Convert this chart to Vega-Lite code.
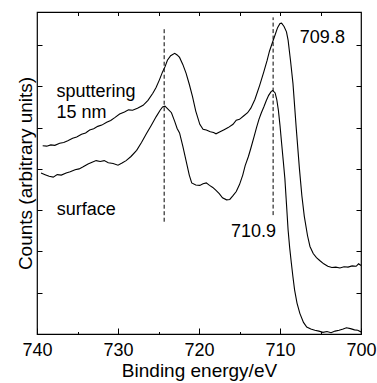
{
  "$schema": "https://vega.github.io/schema/vega-lite/v6.json",
  "width": 324,
  "height": 322,
  "autosize": {"type": "none"},
  "padding": {"left": 37, "top": 12, "right": 16, "bottom": 49},
  "background": "white",
  "config": {
    "view": {"stroke": "black", "strokeWidth": 1.2},
    "font": "Liberation Sans",
    "axis": {"grid": false, "domain": false, "tickColor": "black", "labelColor": "black", "titleColor": "black", "labelFont": "Liberation Sans", "titleFont": "Liberation Sans", "labelFontSize": 18, "titleFontSize": 19, "titleFontWeight": "normal", "tickWidth": 1}
  },
  "datasets": {
    "spectra": [
      {"s": "sputter", "e": 739.3, "c": 4.56}, {"s": "sputter", "e": 738.8, "c": 4.55}, {"s": "sputter", "e": 738.3, "c": 4.58}, {"s": "sputter", "e": 737.8, "c": 4.57},
      {"s": "sputter", "e": 737.2, "c": 4.62}, {"s": "sputter", "e": 736.7, "c": 4.64}, {"s": "sputter", "e": 736.2, "c": 4.68}, {"s": "sputter", "e": 735.6, "c": 4.74},
      {"s": "sputter", "e": 735.1, "c": 4.77}, {"s": "sputter", "e": 734.5, "c": 4.84}, {"s": "sputter", "e": 734.0, "c": 4.87}, {"s": "sputter", "e": 733.5, "c": 4.94},
      {"s": "sputter", "e": 733.0, "c": 4.97}, {"s": "sputter", "e": 732.5, "c": 5.03}, {"s": "sputter", "e": 732.0, "c": 5.06}, {"s": "sputter", "e": 731.4, "c": 5.13},
      {"s": "sputter", "e": 730.9, "c": 5.17}, {"s": "sputter", "e": 730.4, "c": 5.24}, {"s": "sputter", "e": 729.8, "c": 5.33}, {"s": "sputter", "e": 729.2, "c": 5.38},
      {"s": "sputter", "e": 728.7, "c": 5.43}, {"s": "sputter", "e": 728.2, "c": 5.42}, {"s": "sputter", "e": 727.6, "c": 5.47}, {"s": "sputter", "e": 726.9, "c": 5.54},
      {"s": "sputter", "e": 726.3, "c": 5.66}, {"s": "sputter", "e": 725.7, "c": 5.83}, {"s": "sputter", "e": 725.3, "c": 5.97}, {"s": "sputter", "e": 724.9, "c": 6.15},
      {"s": "sputter", "e": 724.5, "c": 6.35}, {"s": "sputter", "e": 724.2, "c": 6.47}, {"s": "sputter", "e": 723.9, "c": 6.63}, {"s": "sputter", "e": 723.5, "c": 6.74},
      {"s": "sputter", "e": 723.0, "c": 6.8}, {"s": "sputter", "e": 722.7, "c": 6.76}, {"s": "sputter", "e": 722.4, "c": 6.7}, {"s": "sputter", "e": 722.0, "c": 6.53},
      {"s": "sputter", "e": 721.6, "c": 6.32}, {"s": "sputter", "e": 721.2, "c": 6.05}, {"s": "sputter", "e": 720.8, "c": 5.75}, {"s": "sputter", "e": 720.4, "c": 5.4},
      {"s": "sputter", "e": 719.9, "c": 5.08}, {"s": "sputter", "e": 719.5, "c": 4.96}, {"s": "sputter", "e": 719.1, "c": 4.94}, {"s": "sputter", "e": 718.6, "c": 4.9},
      {"s": "sputter", "e": 718.2, "c": 4.88}, {"s": "sputter", "e": 717.9, "c": 4.85}, {"s": "sputter", "e": 717.4, "c": 4.9}, {"s": "sputter", "e": 716.9, "c": 4.95},
      {"s": "sputter", "e": 716.4, "c": 5.0}, {"s": "sputter", "e": 715.8, "c": 5.08}, {"s": "sputter", "e": 715.4, "c": 5.18}, {"s": "sputter", "e": 715.0, "c": 5.2},
      {"s": "sputter", "e": 714.5, "c": 5.28}, {"s": "sputter", "e": 714.0, "c": 5.36}, {"s": "sputter", "e": 713.6, "c": 5.47}, {"s": "sputter", "e": 713.1, "c": 5.68},
      {"s": "sputter", "e": 712.5, "c": 6.03}, {"s": "sputter", "e": 712.0, "c": 6.35}, {"s": "sputter", "e": 711.6, "c": 6.62}, {"s": "sputter", "e": 711.3, "c": 6.85},
      {"s": "sputter", "e": 710.9, "c": 7.08}, {"s": "sputter", "e": 710.6, "c": 7.25}, {"s": "sputter", "e": 710.3, "c": 7.42}, {"s": "sputter", "e": 710.0, "c": 7.52},
      {"s": "sputter", "e": 709.8, "c": 7.53}, {"s": "sputter", "e": 709.5, "c": 7.45}, {"s": "sputter", "e": 709.2, "c": 7.32}, {"s": "sputter", "e": 709.0, "c": 7.12},
      {"s": "sputter", "e": 708.7, "c": 6.62}, {"s": "sputter", "e": 708.4, "c": 6.07}, {"s": "sputter", "e": 708.0, "c": 5.0}, {"s": "sputter", "e": 707.6, "c": 4.0},
      {"s": "sputter", "e": 707.3, "c": 3.35}, {"s": "sputter", "e": 707.0, "c": 2.85}, {"s": "sputter", "e": 706.6, "c": 2.38}, {"s": "sputter", "e": 706.3, "c": 2.12},
      {"s": "sputter", "e": 705.9, "c": 1.95}, {"s": "sputter", "e": 705.5, "c": 1.85}, {"s": "sputter", "e": 705.1, "c": 1.78}, {"s": "sputter", "e": 704.6, "c": 1.7},
      {"s": "sputter", "e": 704.1, "c": 1.64}, {"s": "sputter", "e": 703.6, "c": 1.61}, {"s": "sputter", "e": 703.1, "c": 1.62}, {"s": "sputter", "e": 702.6, "c": 1.6},
      {"s": "sputter", "e": 702.1, "c": 1.63}, {"s": "sputter", "e": 701.6, "c": 1.62}, {"s": "sputter", "e": 701.1, "c": 1.65}, {"s": "sputter", "e": 700.6, "c": 1.64},
      {"s": "sputter", "e": 700.3, "c": 1.7}, {"s": "sputter", "e": 700.0, "c": 1.66},
      {"s": "surface", "e": 739.5, "c": 3.9}, {"s": "surface", "e": 739.0, "c": 3.86}, {"s": "surface", "e": 738.5, "c": 3.82}, {"s": "surface", "e": 738.0, "c": 3.8},
      {"s": "surface", "e": 737.5, "c": 3.86}, {"s": "surface", "e": 737.0, "c": 3.85}, {"s": "surface", "e": 736.4, "c": 3.9}, {"s": "surface", "e": 735.9, "c": 3.93},
      {"s": "surface", "e": 735.3, "c": 3.98}, {"s": "surface", "e": 734.8, "c": 4.0}, {"s": "surface", "e": 734.3, "c": 4.05}, {"s": "surface", "e": 733.7, "c": 4.12},
      {"s": "surface", "e": 733.2, "c": 4.16}, {"s": "surface", "e": 732.7, "c": 4.2}, {"s": "surface", "e": 732.2, "c": 4.18}, {"s": "surface", "e": 731.7, "c": 4.2},
      {"s": "surface", "e": 731.2, "c": 4.15}, {"s": "surface", "e": 730.6, "c": 4.13}, {"s": "surface", "e": 730.0, "c": 4.09}, {"s": "surface", "e": 729.5, "c": 4.14},
      {"s": "surface", "e": 729.0, "c": 4.2}, {"s": "surface", "e": 728.4, "c": 4.3}, {"s": "surface", "e": 727.7, "c": 4.45}, {"s": "surface", "e": 727.1, "c": 4.64},
      {"s": "surface", "e": 726.5, "c": 4.85}, {"s": "surface", "e": 725.9, "c": 5.05}, {"s": "surface", "e": 725.3, "c": 5.26}, {"s": "surface", "e": 724.8, "c": 5.42},
      {"s": "surface", "e": 724.5, "c": 5.5}, {"s": "surface", "e": 724.2, "c": 5.52}, {"s": "surface", "e": 723.8, "c": 5.44}, {"s": "surface", "e": 723.4, "c": 5.36},
      {"s": "surface", "e": 723.0, "c": 5.15}, {"s": "surface", "e": 722.7, "c": 4.98}, {"s": "surface", "e": 722.4, "c": 4.87}, {"s": "surface", "e": 722.0, "c": 4.55},
      {"s": "surface", "e": 721.6, "c": 4.2}, {"s": "surface", "e": 721.2, "c": 3.85}, {"s": "surface", "e": 720.9, "c": 3.66}, {"s": "surface", "e": 720.4, "c": 3.61},
      {"s": "surface", "e": 719.9, "c": 3.6}, {"s": "surface", "e": 719.5, "c": 3.64}, {"s": "surface", "e": 719.1, "c": 3.66}, {"s": "surface", "e": 718.7, "c": 3.6},
      {"s": "surface", "e": 718.3, "c": 3.55}, {"s": "surface", "e": 717.9, "c": 3.48}, {"s": "surface", "e": 717.5, "c": 3.4}, {"s": "surface", "e": 717.1, "c": 3.3},
      {"s": "surface", "e": 716.6, "c": 3.25}, {"s": "surface", "e": 716.2, "c": 3.26}, {"s": "surface", "e": 715.8, "c": 3.35}, {"s": "surface", "e": 715.4, "c": 3.45},
      {"s": "surface", "e": 715.0, "c": 3.62}, {"s": "surface", "e": 714.6, "c": 3.85}, {"s": "surface", "e": 714.3, "c": 4.08}, {"s": "surface", "e": 713.9, "c": 4.3},
      {"s": "surface", "e": 713.6, "c": 4.5}, {"s": "surface", "e": 713.2, "c": 4.78}, {"s": "surface", "e": 712.9, "c": 5.0}, {"s": "surface", "e": 712.6, "c": 5.2},
      {"s": "surface", "e": 712.3, "c": 5.36}, {"s": "surface", "e": 712.0, "c": 5.5}, {"s": "surface", "e": 711.7, "c": 5.65}, {"s": "surface", "e": 711.4, "c": 5.78},
      {"s": "surface", "e": 711.1, "c": 5.87}, {"s": "surface", "e": 710.9, "c": 5.9}, {"s": "surface", "e": 710.6, "c": 5.84}, {"s": "surface", "e": 710.4, "c": 5.68},
      {"s": "surface", "e": 710.2, "c": 5.42}, {"s": "surface", "e": 710.0, "c": 5.05}, {"s": "surface", "e": 709.8, "c": 4.62}, {"s": "surface", "e": 709.6, "c": 4.2},
      {"s": "surface", "e": 709.4, "c": 3.77}, {"s": "surface", "e": 709.2, "c": 3.15}, {"s": "surface", "e": 709.0, "c": 2.52}, {"s": "surface", "e": 708.8, "c": 2.08},
      {"s": "surface", "e": 708.6, "c": 1.72}, {"s": "surface", "e": 708.4, "c": 1.38}, {"s": "surface", "e": 708.2, "c": 1.07}, {"s": "surface", "e": 707.9, "c": 0.75},
      {"s": "surface", "e": 707.55, "c": 0.5}, {"s": "surface", "e": 707.1, "c": 0.28}, {"s": "surface", "e": 706.7, "c": 0.17}, {"s": "surface", "e": 706.2, "c": 0.12},
      {"s": "surface", "e": 705.7, "c": 0.09}, {"s": "surface", "e": 705.2, "c": 0.07}, {"s": "surface", "e": 704.7, "c": 0.04}, {"s": "surface", "e": 704.2, "c": 0.06},
      {"s": "surface", "e": 703.7, "c": 0.03}, {"s": "surface", "e": 703.2, "c": 0.07}, {"s": "surface", "e": 702.7, "c": 0.09}, {"s": "surface", "e": 702.2, "c": 0.12},
      {"s": "surface", "e": 701.8, "c": 0.15}, {"s": "surface", "e": 701.3, "c": 0.13}, {"s": "surface", "e": 700.8, "c": 0.1}, {"s": "surface", "e": 700.4, "c": 0.09},
      {"s": "surface", "e": 700.0, "c": 0.05}
    ],
    "rules": [
      {"e": 724.3, "c1": 2.72, "c2": 7.44},
      {"e": 710.85, "c1": 2.88, "c2": 7.67}
    ],
    "labelsLeft": [
      {"t": "sputtering", "e": 737.6, "c": 5.87},
      {"t": "15 nm", "e": 737.6, "c": 5.36},
      {"t": "surface", "e": 737.55, "c": 3.0},
      {"t": "709.8", "e": 707.55, "c": 7.17}
    ],
    "labelsRight": [
      {"t": "710.9", "e": 710.5, "c": 2.48}
    ]
  },
  "resolve": {"scale": {"x": "shared", "y": "shared"}, "axis": {"x": "independent", "y": "independent"}},
  "layer": [
    {
      "data": {"name": "spectra"},
      "mark": {"type": "line", "color": "black", "strokeWidth": 1.1, "clip": true},
      "encoding": {
        "x": {"field": "e", "type": "quantitative", "scale": {"domain": [740, 700], "nice": false, "zero": false},
          "axis": {"orient": "bottom", "values": [740, 730, 720, 710, 700], "tickSize": -6, "labelPadding": 13, "title": "Binding energy/eV", "titlePadding": 2, "labelFlush": false}},
        "y": {"field": "c", "type": "quantitative", "scale": {"domain": [0, 7.8], "nice": false, "zero": false},
          "axis": {"orient": "left", "values": [1, 2, 3, 4, 5, 6, 7], "tickSize": -5, "labels": false, "title": "Counts (arbitrary units)", "titlePadding": 1}},
        "detail": {"field": "s"}
      }
    },
    {
      "data": {"name": "rules"},
      "mark": {"type": "rule", "color": "black", "strokeWidth": 1, "strokeDash": [4, 2.5]},
      "encoding": {
        "x": {"field": "e", "type": "quantitative", "scale": {"domain": [740, 700], "nice": false, "zero": false},
          "axis": {"orient": "top", "values": [735, 730, 725, 720, 715, 710, 705], "tickSize": -3.5, "labels": false, "title": null}},
        "y": {"field": "c1", "type": "quantitative", "scale": {"domain": [0, 7.8], "nice": false, "zero": false},
          "axis": {"orient": "right", "values": [1, 2, 3, 4, 5, 6, 7], "tickSize": -5, "labels": false, "title": null}},
        "y2": {"field": "c2"}
      }
    },
    {
      "data": {"name": "labelsLeft"},
      "mark": {"type": "text", "font": "Liberation Sans", "fontSize": 18, "color": "black", "baseline": "middle", "align": "left"},
      "encoding": {
        "x": {"field": "e", "type": "quantitative", "scale": {"domain": [740, 700], "nice": false, "zero": false},
          "axis": {"orient": "bottom", "values": [735, 725, 715, 705], "tickSize": -2.5, "labels": false, "title": null}},
        "y": {"field": "c", "type": "quantitative", "scale": {"domain": [0, 7.8], "nice": false, "zero": false}, "axis": null},
        "text": {"field": "t"}
      }
    },
    {
      "data": {"name": "labelsRight"},
      "mark": {"type": "text", "font": "Liberation Sans", "fontSize": 18, "color": "black", "baseline": "middle", "align": "right"},
      "encoding": {
        "x": {"field": "e", "type": "quantitative", "scale": {"domain": [740, 700], "nice": false, "zero": false}, "axis": null},
        "y": {"field": "c", "type": "quantitative", "scale": {"domain": [0, 7.8], "nice": false, "zero": false}, "axis": null},
        "text": {"field": "t"}
      }
    }
  ]
}
